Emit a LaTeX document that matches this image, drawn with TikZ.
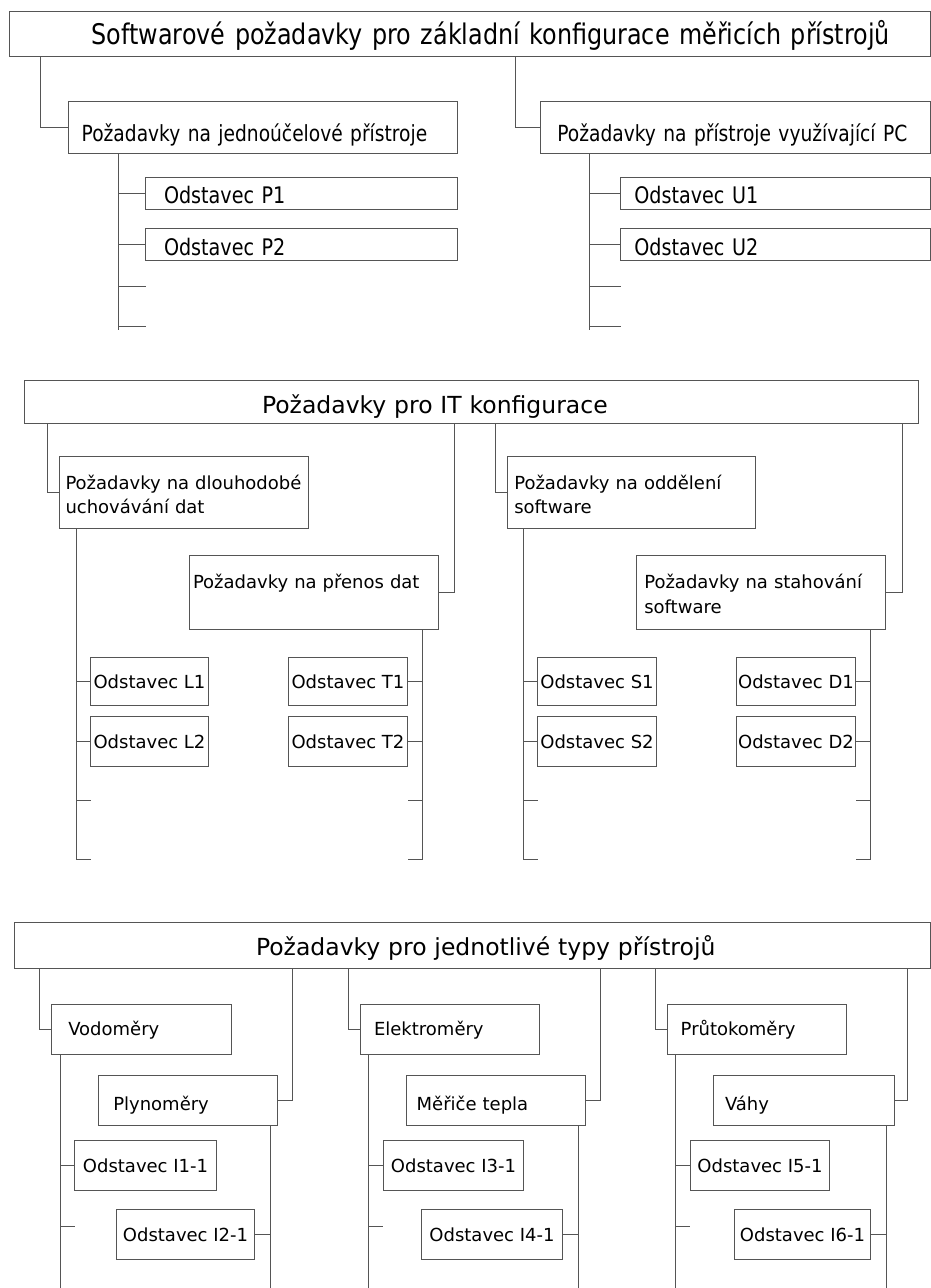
\documentclass[tikz,border=0pt]{standalone}
\usepackage{fontspec}
\setmainfont{DejaVu Sans}
\newfontfamily\condf[FakeStretch=0.84]{DejaVu Sans}
\definecolor{lc}{RGB}{85,85,85}
\newcommand\fbody{\fontsize{18}{24.5}\selectfont}
\newcommand\ftitle{\fontsize{23.5}{28}\selectfont}
\newcommand\fsa{\condf\fontsize{28.4}{34}\selectfont}
\newcommand\fsb{\condf\fontsize{22.2}{27}\selectfont}
\newcommand\fsc{\condf\fontsize{22.8}{27}\selectfont}
\newcommand\vstr[2]{\rule[-#2pt]{0pt}{#1pt}}
\begin{document}
\begin{tikzpicture}[x=1pt,y=-1pt,
  ln/.style={draw=lc,line width=1pt},
  bx/.style={draw=lc,line width=1pt,rectangle,anchor=north west,inner sep=0pt,outer sep=0pt,align=left},
  sb/.style={draw=lc,line width=1pt,rectangle,anchor=north west,inner sep=0pt,outer sep=0pt,font=\fbody}]
\fill[white] (0,0) rectangle (931,1288);
\useasboundingbox (0,0) rectangle (931,1288);

% ---------- Section 1 ----------
\node[bx,font=\fsa,text width=921pt,minimum height=45pt] (top1) at (9.5,11.5)
  {\vstr{34}{7}\hspace*{82.2pt}Softwarové požadavky pro základní konfigurace měřicích přístrojů};
\node[bx,font=\fsb,text width=389pt,minimum height=52pt] (p) at (68.5,101.5)
  {\vstr{40.4}{6}\hspace*{13.2pt}Požadavky na jednoúčelové přístroje};
\node[bx,font=\fsb,text width=390pt,minimum height=52pt] (u) at (540.5,101.5)
  {\vstr{40.4}{6}\hspace*{16.8pt}Požadavky na přístroje využívající PC};
\node[bx,font=\fsc,text width=312pt,minimum height=32pt] (p1) at (145.5,177.5)
  {\vstr{21}{0}\hspace*{18.5pt}Odstavec P1};
\node[bx,font=\fsc,text width=312pt,minimum height=32pt] (p2) at (145.5,228.5)
  {\vstr{23}{0}\hspace*{18.5pt}Odstavec P2};
\node[bx,font=\fsc,text width=310pt,minimum height=32pt] (u1) at (620.5,177.5)
  {\vstr{21}{0}\hspace*{13.8pt}Odstavec U1};
\node[bx,font=\fsc,text width=310pt,minimum height=32pt] (u2) at (620.5,228.5)
  {\vstr{23}{0}\hspace*{13.8pt}Odstavec U2};

\coordinate (pv) at (118.5,330);
\coordinate (pt3) at (145.5,286.5);
\coordinate (pt4) at (145.5,326.5);
\coordinate (uv) at (589.5,330);
\coordinate (ut3) at (620.5,286.5);
\coordinate (ut4) at (620.5,326.5);

\draw[ln] ([xshift=31pt]top1.south west) |- (p.west);
\draw[ln] ([xshift=506pt]top1.south west) |- (u.west);
\draw[ln] (p.south -| pv) -- (pv);
\draw[ln] (pv |- p1.west) -- (p1.west);
\draw[ln] (pv |- p2.west) -- (p2.west);
\draw[ln] (pv |- pt3) -- (pt3);
\draw[ln] (pv |- pt4) -- (pt4);
\draw[ln] (u.south -| uv) -- (uv);
\draw[ln] (uv |- u1.west) -- (u1.west);
\draw[ln] (uv |- u2.west) -- (u2.west);
\draw[ln] (uv |- ut3) -- (ut3);
\draw[ln] (uv |- ut4) -- (ut4);

% ---------- Section 2 ----------
\node[bx,font=\ftitle,text width=894pt,minimum height=43pt] (top2) at (24.5,380.5)
  {\vstr{34.6}{6}\hspace*{237.5pt}Požadavky pro IT konfigurace};
\node[bx,font=\fbody,text width=249pt,minimum height=72pt] (lreq) at (59.5,456.5)
  {\vstr{18}{0}\hspace*{6pt}Požadavky na dlouhodobé\\\hspace*{6pt}uchovávání dat};
\node[bx,font=\fbody,text width=249pt,minimum height=74pt] (pren) at (189.5,555.5)
  {\vstr{17}{0}\hspace*{3.5pt}Požadavky na přenos dat\\\mbox{}};
\node[bx,font=\fbody,text width=248pt,minimum height=72pt] (odd) at (507.5,456.5)
  {\vstr{18}{0}\hspace*{6.8pt}Požadavky na oddělení\\\hspace*{6.8pt}software};
\node[bx,font=\fbody,text width=249pt,minimum height=74pt] (stah) at (636.5,555.5)
  {\vstr{17}{0}\hspace*{7.8pt}Požadavky na stahování\\\hspace*{7.8pt}software};

\node[sb,minimum width=118pt,minimum height=48pt] (l1) at (90.5,657.5) {Odstavec L1};
\node[sb,minimum width=118pt,minimum height=50pt] (l2) at (90.5,716.5) {Odstavec L2};
\node[sb,minimum width=119pt,minimum height=48pt] (t1) at (288.5,657.5) {Odstavec T1};
\node[sb,minimum width=119pt,minimum height=50pt] (t2) at (288.5,716.5) {Odstavec T2};
\node[sb,minimum width=119pt,minimum height=48pt] (s1) at (537.5,657.5) {Odstavec S1};
\node[sb,minimum width=119pt,minimum height=50pt] (s2) at (537.5,716.5) {Odstavec S2};
\node[sb,minimum width=119pt,minimum height=48pt] (d1) at (736.5,657.5) {Odstavec D1};
\node[sb,minimum width=119pt,minimum height=50pt] (d2) at (736.5,716.5) {Odstavec D2};

\coordinate (lv) at (76.5,859.5);
\coordinate (lt3) at (90.5,800.5);
\coordinate (lt4) at (90.5,859.5);
\coordinate (tv) at (422.5,859.5);
\coordinate (tt3) at (407.5,800.5);
\coordinate (tt4) at (407.5,859.5);
\coordinate (sv) at (523.5,859.5);
\coordinate (st3) at (537.5,800.5);
\coordinate (st4) at (537.5,859.5);
\coordinate (dv) at (870.5,859.5);
\coordinate (dt3) at (855.5,800.5);
\coordinate (dt4) at (855.5,859.5);

\draw[ln] ([xshift=23pt]top2.south west) |- (lreq.west);
\draw[ln] ([xshift=430pt]top2.south west) |- (pren.east);
\draw[ln] ([xshift=471pt]top2.south west) |- (odd.west);
\draw[ln] ([xshift=878pt]top2.south west) |- (stah.east);

\draw[ln] (lreq.south -| lv) -- (lv) -- (lt4);
\draw[ln] (lv |- l1.west) -- (l1.west);
\draw[ln] (lv |- l2.west) -- (l2.west);
\draw[ln] (lv |- lt3) -- (lt3);
\draw[ln] (pren.south -| tv) -- (tv) -- (tt4);
\draw[ln] (tv |- t1.east) -- (t1.east);
\draw[ln] (tv |- t2.east) -- (t2.east);
\draw[ln] (tv |- tt3) -- (tt3);
\draw[ln] (odd.south -| sv) -- (sv) -- (st4);
\draw[ln] (sv |- s1.west) -- (s1.west);
\draw[ln] (sv |- s2.west) -- (s2.west);
\draw[ln] (sv |- st3) -- (st3);
\draw[ln] (stah.south -| dv) -- (dv) -- (dt4);
\draw[ln] (dv |- d1.east) -- (d1.east);
\draw[ln] (dv |- d2.east) -- (d2.east);
\draw[ln] (dv |- dt3) -- (dt3);

% ---------- Section 3 ----------
\node[bx,font=\ftitle,text width=916pt,minimum height=46pt] (top3) at (14.5,922.5)
  {\vstr{31}{6}\hspace*{241.5pt}Požadavky pro jednotlivé typy přístrojů};

\node[bx,font=\fbody,text width=180pt,minimum height=50pt] (vod) at (51.5,1004.5)
  {\vstr{22}{5}\hspace*{16.8pt}Vodoměry};
\node[bx,font=\fbody,text width=179pt,minimum height=50pt] (ply) at (98.5,1075.5)
  {\vstr{30}{5}\hspace*{14.8pt}Plynoměry};
\node[sb,minimum width=142pt,minimum height=50pt] (i11) at (74.5,1140.5) {Odstavec I1-1};
\node[sb,minimum width=138pt,minimum height=50pt] (i21) at (116.5,1209.5) {Odstavec I2-1};

\node[bx,font=\fbody,text width=179pt,minimum height=50pt] (ele) at (360.5,1004.5)
  {\vstr{22}{5}\hspace*{13.5pt}Elektroměry};
\node[bx,font=\fbody,text width=179pt,minimum height=50pt] (mer) at (406.5,1075.5)
  {\vstr{30}{5}\hspace*{10.2pt}Měřiče tepla};
\node[sb,minimum width=140pt,minimum height=50pt] (i31) at (383.5,1140.5) {Odstavec I3-1};
\node[sb,minimum width=141pt,minimum height=50pt] (i41) at (421.5,1209.5) {Odstavec I4-1};

\node[bx,font=\fbody,text width=179pt,minimum height=50pt] (pru) at (667.5,1004.5)
  {\vstr{22}{5}\hspace*{13.2pt}Průtokoměry};
\node[bx,font=\fbody,text width=181pt,minimum height=50pt] (vah) at (713.5,1075.5)
  {\vstr{30}{5}\hspace*{11.5pt}Váhy};
\node[sb,minimum width=139pt,minimum height=50pt] (i51) at (690.5,1140.5) {Odstavec I5-1};
\node[sb,minimum width=136pt,minimum height=50pt] (i61) at (734.5,1209.5) {Odstavec I6-1};

\coordinate (v1) at (60.5,1288);
\coordinate (e1) at (74.5,1226.5);
\coordinate (w1) at (270.5,1288);
\coordinate (v2) at (368.5,1288);
\coordinate (e2) at (382.5,1226.5);
\coordinate (w2) at (578.5,1288);
\coordinate (v3) at (675.5,1288);
\coordinate (e3) at (689.5,1226.5);
\coordinate (w3) at (886.5,1288);

\draw[ln] ([xshift=25pt]top3.south west) |- (vod.west);
\draw[ln] ([xshift=278pt]top3.south west) |- (ply.east);
\draw[ln] ([xshift=334pt]top3.south west) |- (ele.west);
\draw[ln] ([xshift=586pt]top3.south west) |- (mer.east);
\draw[ln] ([xshift=641pt]top3.south west) |- (pru.west);
\draw[ln] ([xshift=893pt]top3.south west) |- (vah.east);

\draw[ln] (vod.south -| v1) -- (v1);
\draw[ln] (v1 |- i11.west) -- (i11.west);
\draw[ln] (v1 |- e1) -- (e1);
\draw[ln] (ply.south -| w1) -- (w1);
\draw[ln] (w1 |- i21.east) -- (i21.east);

\draw[ln] (ele.south -| v2) -- (v2);
\draw[ln] (v2 |- i31.west) -- (i31.west);
\draw[ln] (v2 |- e2) -- (e2);
\draw[ln] (mer.south -| w2) -- (w2);
\draw[ln] (w2 |- i41.east) -- (i41.east);

\draw[ln] (pru.south -| v3) -- (v3);
\draw[ln] (v3 |- i51.west) -- (i51.west);
\draw[ln] (v3 |- e3) -- (e3);
\draw[ln] (vah.south -| w3) -- (w3);
\draw[ln] (w3 |- i61.east) -- (i61.east);
\end{tikzpicture}
\end{document}
